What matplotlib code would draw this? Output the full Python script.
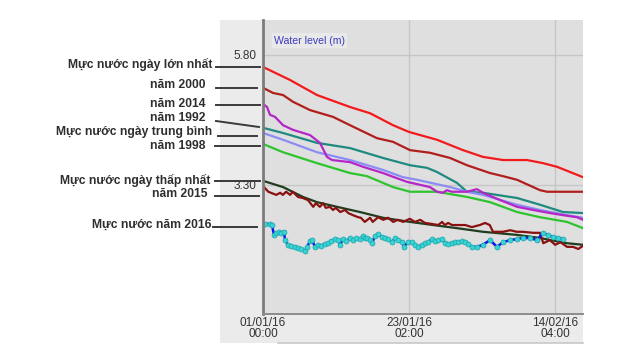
import matplotlib
matplotlib.use('Agg')
import matplotlib.pyplot as plt
from matplotlib.patches import Rectangle
from matplotlib.lines import Line2D

# ---------------- data (x in days since 01/01/16 00:00, y in metres) -------------
max_d = [0, 4.08, 8.17, 13.16, 16.19, 19.67, 22.09, 26.32, 30.26, 33.28, 36.31, 39.94, 42.36, 44.48, 48.41]
max_v = [5.57, 5.32, 5.03, 4.80, 4.68, 4.45, 4.32, 4.17, 3.97, 3.84, 3.78, 3.78, 3.72, 3.65, 3.45]

y2000_d = [0, 1.51, 3.03, 4.54, 7.11, 10.59, 13.16, 17.25, 19.67, 22.24, 25.26, 28.29, 30.86, 34.34, 36.31, 38.43, 41.91, 42.97, 48.41]
y2000_v = [5.17, 5.07, 5.03, 4.90, 4.74, 4.61, 4.45, 4.20, 4.13, 3.97, 3.92, 3.82, 3.68, 3.53, 3.47, 3.40, 3.20, 3.17, 3.17]

y2014_d = [0, 0.61, 1.06, 1.82, 3.03, 4.54, 7.11, 8.62, 9.68, 10.44, 13.16, 15.13, 18.15, 20.27, 21.79, 25.26,
           26.32, 27.23, 27.8, 28.59, 30.86, 32.37, 33.28, 35.86, 38.43, 40.85, 43.42, 45.39, 47.5, 48.41]
y2014_v = [4.86, 4.80, 4.65, 4.61, 4.45, 4.36, 4.26, 4.11, 3.84, 3.78, 3.74, 3.65, 3.53, 3.43, 3.36, 3.26,
           3.17, 3.15, 3.20, 3.17, 3.17, 3.22, 3.15, 3.01, 2.88, 2.82, 2.76, 2.72, 2.68, 2.63]

y1992_d = [0, 3.03, 8.17, 13.16, 18.15, 22.24, 24.81, 26.32, 29.35, 30.86, 33.28, 38.43, 41.91, 45.39, 48.41]
y1992_v = [4.40, 4.30, 4.11, 4.01, 3.82, 3.68, 3.63, 3.55, 3.34, 3.17, 3.15, 3.05, 2.92, 2.78, 2.76]

avg_d = [0, 3.03, 8.17, 13.16, 18.15, 21.18, 23.30, 28.29, 30.86, 33.28, 38.43, 41.91, 45.99, 48.41]
avg_v = [4.30, 4.17, 3.93, 3.78, 3.59, 3.45, 3.40, 3.26, 3.17, 3.11, 2.92, 2.82, 2.72, 2.67]

y1998_d = [0, 3.03, 8.17, 13.16, 15.73, 19.67, 22.24, 26.32, 30.86, 34.34, 38.43, 41.91, 45.99, 48.41]
y1998_v = [4.09, 3.93, 3.72, 3.53, 3.47, 3.26, 3.17, 3.17, 3.07, 2.97, 2.78, 2.68, 2.59, 2.47]

min_d = [0, 3.03, 6.05, 8.17, 11.20, 14.67, 18.15, 22.24, 25.72, 29.35, 33.28, 38.43, 41.91, 46.0, 48.41]
min_v = [3.38, 3.26, 3.07, 2.97, 2.88, 2.78, 2.67, 2.59, 2.53, 2.47, 2.40, 2.34, 2.28, 2.18, 2.15]

y2015_d = [0.0, 0.3, 0.8, 1.2, 2.0, 2.6, 3.0, 3.5, 4.1, 4.5, 5.3, 6.0, 6.8, 7.6, 8.0, 8.6, 9.1, 9.5, 10.1,
           10.6, 11.0, 11.7, 12.4, 12.9, 13.6, 14.4, 14.8, 15.4, 16.2, 16.6, 17.4, 18.2, 18.9, 19.7, 20.4,
           21.2, 22.2, 23.0, 23.8, 24.5, 25.6, 26.5, 27.1, 27.5, 28.0, 28.6, 29.5, 30.6, 31.6, 32.8, 33.6,
           34.3, 34.8, 36.3, 37.4, 38.4, 39.3, 40.9, 41.9, 42.4, 43.4, 44.2, 45.0, 46.0, 46.9, 47.7, 48.4]
y2015_v = [3.28, 3.24, 3.17, 3.15, 3.11, 3.15, 3.11, 3.17, 3.11, 3.17, 3.07, 3.05, 3.01, 2.88, 2.95, 2.88,
           2.95, 2.86, 2.88, 2.82, 2.86, 2.78, 2.82, 2.76, 2.72, 2.68, 2.67, 2.59, 2.67, 2.59, 2.68, 2.63,
           2.67, 2.59, 2.63, 2.59, 2.65, 2.59, 2.63, 2.57, 2.55, 2.53, 2.59, 2.53, 2.57, 2.53, 2.53, 2.53,
           2.49, 2.53, 2.57, 2.53, 2.40, 2.40, 2.43, 2.40, 2.40, 2.38, 2.38, 2.18, 2.24, 2.15, 2.20, 2.11,
           2.11, 2.07, 2.13]

y2016_d = [0.0, 0.3, 1.06, 1.36, 1.66, 1.97, 2.42, 2.72, 3.18, 3.33, 3.78, 4.24, 4.84, 5.30, 5.75, 6.35,
           6.66, 7.11, 7.41, 7.87, 8.32, 8.77, 9.38, 9.83, 10.29, 10.89, 11.35, 11.65, 12.10, 12.56, 13.16,
           13.62, 14.07, 14.67, 15.13, 15.43, 15.73, 16.19, 16.49, 16.94, 17.40, 18.00, 18.46, 18.91, 19.52,
           19.97, 20.42, 21.03, 21.33, 21.94, 22.54, 23.00, 23.45, 24.05, 24.51, 24.96, 25.57, 26.02, 26.48,
           27.08, 27.53, 27.99, 28.59, 29.05, 29.50, 30.11, 30.56, 31.01, 31.62, 32.37, 33.28, 34.34, 35.40,
           36.31, 37.37, 38.43, 39.33, 40.39, 41.45, 42.36, 43.12, 43.87, 44.63, 45.39]
y2016_v = [2.55, 2.55, 2.55, 2.53, 2.34, 2.38, 2.40, 2.38, 2.40, 2.24, 2.15, 2.13, 2.11, 2.09, 2.07, 2.03,
           2.11, 2.22, 2.24, 2.11, 2.15, 2.13, 2.17, 2.18, 2.22, 2.26, 2.24, 2.15, 2.26, 2.22, 2.28,
           2.24, 2.28, 2.26, 2.32, 2.28, 2.28, 2.24, 2.18, 2.32, 2.36, 2.30, 2.28, 2.26, 2.20,
           2.28, 2.24, 2.20, 2.11, 2.20, 2.20, 2.15, 2.11, 2.15, 2.18, 2.20, 2.26, 2.22, 2.24,
           2.26, 2.18, 2.17, 2.18, 2.20, 2.20, 2.22, 2.20, 2.17, 2.11, 2.11, 2.15, 2.24, 2.11,
           2.20, 2.24, 2.26, 2.28, 2.28, 2.24, 2.38, 2.34, 2.30, 2.28, 2.26]

ytick_vals = [5.80, 3.30]
ytick_labels = ['5.80', '3.30']
xtick_vals = [0, 22.0833, 44.1667]
xtick_labels = ['01/01/16\n00:00', '23/01/16\n02:00', '14/02/16\n04:00']

ann_labels = ['Mực nước ngày lớn nhất', 'năm 2000', 'năm 2014', 'năm 1992',
              'Mực nước ngày trung bình', 'năm 1998', 'Mực nước ngày thấp nhất',
              'năm 2015', 'Mực nước năm 2016']

# ---------------- layout helpers (pixel positions) ----------------
W, H = 640, 360
def fx(x):
    return x / W
def fy(y):
    return 1 - y / H

plt.rcParams['font.family'] = ['Liberation Sans', 'DejaVu Sans']

fig = plt.figure(figsize=(6.4, 3.6), dpi=100)
fig.patch.set_facecolor('white')

fig.patches.append(Rectangle((fx(220), fy(343)), (583 - 220) / W, (343 - 20) / H,
                             transform=fig.transFigure, facecolor='#ebebeb',
                             edgecolor='none', zorder=-5))
fig.lines.append(Line2D([fx(278), fx(583)], [fy(343), fy(343)], transform=fig.transFigure,
                        color='#c8c8c8', lw=1.2, zorder=-4))

ax = fig.add_axes([fx(263), fy(314), (583 - 263) / W, (314 - 20) / H])
ax.set_zorder(2)
ax.set_facecolor('#dfdfdf')
ax.set_xlim(0, 48.41)
ax.set_ylim(0.819, 6.473)

ax.set_yticks(ytick_vals)
ax.set_yticklabels(ytick_labels)
ax.set_xticks(xtick_vals)
ax.set_xticklabels(xtick_labels, linespacing=0.95)
ax.tick_params(axis='both', length=0, labelsize=8.5, labelcolor='#333333')
ax.tick_params(axis='y', pad=4.5)
ax.tick_params(axis='x', pad=2)
ax.grid(True, color='#c6c6c6', lw=1.0)
ax.set_axisbelow(True)

for s in ['top', 'right']:
    ax.spines[s].set_visible(False)
ax.spines['left'].set_color('#7c7c7c')
ax.spines['left'].set_linewidth(2.0)
ax.spines['bottom'].set_color('#8c8c8c')
ax.spines['bottom'].set_linewidth(1.4)

lw = 1.6
ax.plot(max_d, max_v, color='#f21a1a', lw=lw)
ax.plot(y2000_d, y2000_v, color='#b01e1e', lw=lw)
ax.plot(y1992_d, y1992_v, color='#1f8a80', lw=lw)
ax.plot(avg_d, avg_v, color='#8c8cf5', lw=lw)
ax.plot(y1998_d, y1998_v, color='#2ec42e', lw=lw)
ax.plot(y2014_d, y2014_v, color='#b526c8', lw=lw)
ax.plot(min_d, min_v, color='#1f3d1f', lw=lw)
ax.plot(y2015_d, y2015_v, color='#8b1010', lw=lw)
ax.plot(y2016_d, y2016_v, color='#0a14f0', lw=1.8, marker='o', ms=3.6,
        mfc='#36d4d4', mec='#1fa3a8', mew=0.5)

ax.text(0.035, 0.93, 'Water level (m)', transform=ax.transAxes, fontsize=7.6,
        color='#3c3cc0', ha='left', va='center',
        bbox=dict(boxstyle='square,pad=0.2', facecolor='#e9e9e9', edgecolor='none'))

# ---------------- left annotations ----------------
ann_text_pos = [(212, 64), (206, 85), (206, 104), (206, 118), (212, 132), (205, 146),
                (210, 180), (207, 194), (211, 225)]
ann_lines = [((216, 67), (260, 67)), ((216, 88), (257, 88)), ((216, 105), (260, 105)),
             ((216, 121), (259, 127)), ((218, 136), (257, 136)), ((215, 146), (260, 146)),
             ((215, 181), (260, 181)), ((215, 196), (259, 196)), ((213, 227), (257, 227))]
for lab, (tx, ty), ((x1, y1), (x2, y2)) in zip(ann_labels, ann_text_pos, ann_lines):
    fig.text(fx(tx), fy(ty), lab, ha='right', va='center', fontsize=8.7,
             fontweight='bold', color='#2e2e2e')
    fig.lines.append(Line2D([fx(x1), fx(x2)], [fy(y1), fy(y2)], transform=fig.transFigure,
                            color='#3a3a3a', lw=1.4))

fig.savefig('out.png', dpi=100)
